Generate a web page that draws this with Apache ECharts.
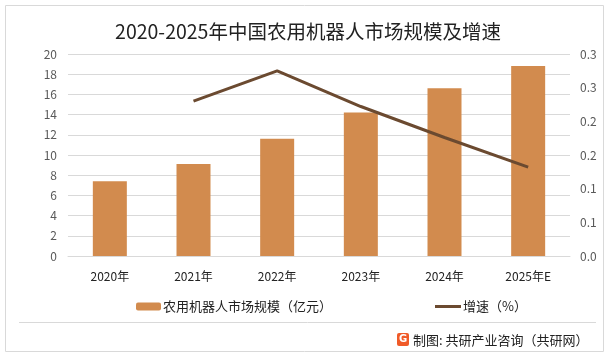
<!DOCTYPE html>
<html><head><meta charset="utf-8">
<script src="https://cdn.jsdelivr.net/npm/echarts@6/dist/echarts.min.js"></script>
<style>html,body{margin:0;padding:0;background:#fff}#c{width:616px;height:360px}</style>
</head><body><div id="c"></div>
<script>
const categories = ['2020年','2021年','2022年','2023年','2024年','2025年E'];
const marketSize = [7.4, 9.1, 11.6, 14.2, 16.6, 18.8];
const growthRate = [null, 0.23, 0.275, 0.222, 0.176, 0.132];
const leftTicks = [0, 20, 2];
const rightTicks = [0, 0.3, 0.05];
const barName = '农用机器人市场规模（亿元）';
const lineName = '增速（%）';

const FONT = '"Noto Sans CJK SC", "Noto Sans", sans-serif';
const chart = echarts.init(document.getElementById('c'), null, {renderer:'canvas'});
chart.setOption({
  animation:false,
  textStyle:{fontFamily:FONT},
  title:{text:'2020-2025年中国农用机器人市场规模及增速', left:'center', top:17,
    textStyle:{fontSize:19.5, fontWeight:'normal', color:'#222', fontFamily:FONT}},
  grid:{left:68, right:46, top:54, bottom:104},
  legend:[
    {data:[barName], left:131, top:295, itemWidth:25, itemHeight:8, itemGap:0,
     textStyle:{fontSize:13, color:'#222', padding:[0,0,0,-3]}},
    {data:[{name:lineName, icon:'rect'}], left:430, top:295, itemWidth:26, itemHeight:3,
     textStyle:{fontSize:13, color:'#222', padding:[0,0,0,-3]}}
  ],
  xAxis:{type:'category', data:categories,
    axisLine:{lineStyle:{color:'#D9D9D9'}}, axisTick:{show:false},
    axisLabel:{color:'#222', fontSize:12, margin:14}},
  yAxis:[
    {type:'value', min:leftTicks[0], max:leftTicks[1], interval:leftTicks[2],
     axisLine:{show:false}, axisTick:{show:false},
     axisLabel:{color:'#595959', fontSize:12, margin:11},
     splitLine:{lineStyle:{color:'#D9D9D9'}}},
    {type:'value', min:rightTicks[0], max:rightTicks[1], interval:rightTicks[2],
     axisLine:{show:false}, axisTick:{show:false}, splitLine:{show:false},
     axisLabel:{color:'#595959', fontSize:12, margin:10,
       formatter:v=>(Math.round(v*10+1e-9)/10).toFixed(1)}}
  ],
  series:[
    {name:barName, type:'bar', data:marketSize, barWidth:34, itemStyle:{color:'#D28B4E'}},
    {name:lineName, type:'line', yAxisIndex:1, data:growthRate, symbol:'none',
     lineStyle:{color:'#6B4A30', width:3}, itemStyle:{color:'#6B4A30'}}
  ],
  graphic:[
    {type:'rect', shape:{x:5.5, y:5.5, width:598, height:346}, style:{fill:'none', stroke:'#D9D9D9', lineWidth:1}, silent:true},
    {type:'line', shape:{x1:19, y1:322.5, x2:596, y2:322.5}, style:{stroke:'#D9D9D9', lineWidth:1}},
    {type:'rect', shape:{x:397, y:333, width:12, height:13, r:2}, style:{fill:'#F05A28'}},
    {type:'text', x:403, y:339.5, style:{text:'G', fill:'#fff', font:'bold 10px "DejaVu Sans"', align:'center', verticalAlign:'middle'}},
    {type:'text', x:413, y:340, style:{text:'制图: 共研产业咨询（共研网）', fill:'#222', font:'13px "Noto Sans CJK SC"', verticalAlign:'middle'}}
  ]
});
</script></body></html>
